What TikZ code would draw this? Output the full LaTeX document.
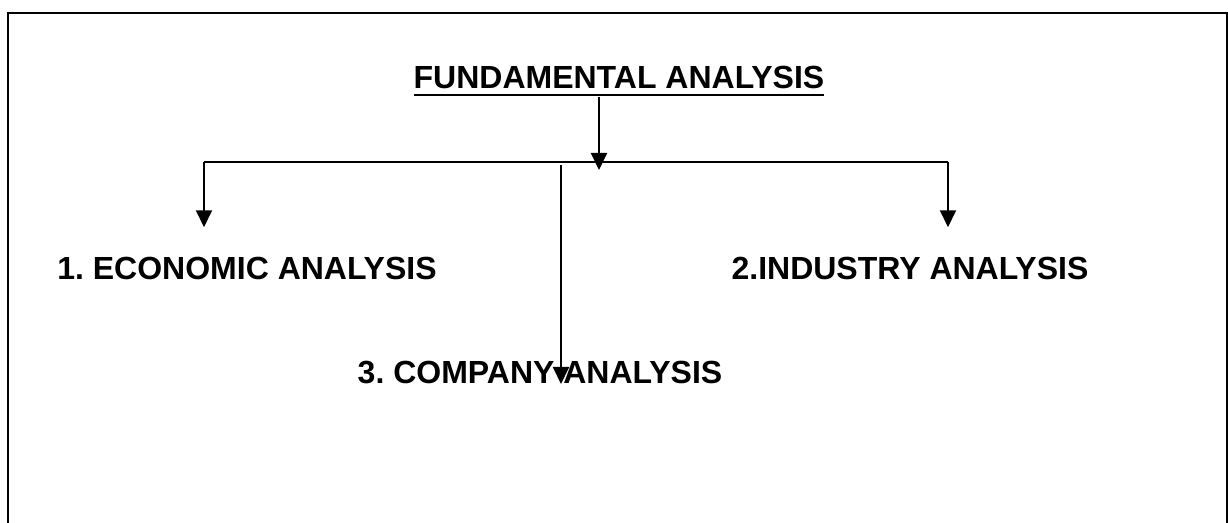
\documentclass[tikz,border=0pt]{standalone}
\usepackage{fontspec}
\setmainfont{Liberation Sans}
\usetikzlibrary{arrows.meta,positioning}
\newcommand{\thickul}[1]{\setbox0=\hbox{#1}\copy0\llap{\rule[-3.6pt]{\wd0}{1.1pt}}}
\frenchspacing

\begin{document}
\begin{tikzpicture}[
x=0.5pt, y=-0.5pt,
heading/.style={font=\bfseries\fontsize{16}{19}\selectfont, inner sep=0pt, anchor=base},
arrow/.style={-{Triangle[length=8.5pt, width=8pt]}, line width=1pt},
bar/.style={line width=1pt}
]
\useasboundingbox (0,0) rectangle (1228,523);
\draw[line width=1.4pt] (8,523) -- (8,13) -- (1227,13) -- (1227,523);

\node[heading] (fund) at (619,89) {\thickul{FUNDAMENTAL ANALYSIS}};
\node[heading] (econ) at (247,280) {1. ECONOMIC ANALYSIS};
\node[heading] (ind) at (910,280) {2.INDUSTRY ANALYSIS};
\node[heading] (comp) at (540,384) {3. COMPANY ANALYSIS};

\coordinate (barl) at (204,162);
\coordinate (barr) at (948,162);
\coordinate (mid) at (599,170);
\coordinate (drop) at (561,165);

\draw[arrow] (mid |- fund.south) -- (mid);
\draw[bar] (barl) -- (barr);
\draw[arrow, shorten >=15pt] (barl) -- (barl |- econ.north);
\draw[arrow, shorten >=15pt] (barr) -- (barr |- ind.north);
\draw[arrow] (drop) -- (drop |- comp.base);
\end{tikzpicture}
\end{document}
